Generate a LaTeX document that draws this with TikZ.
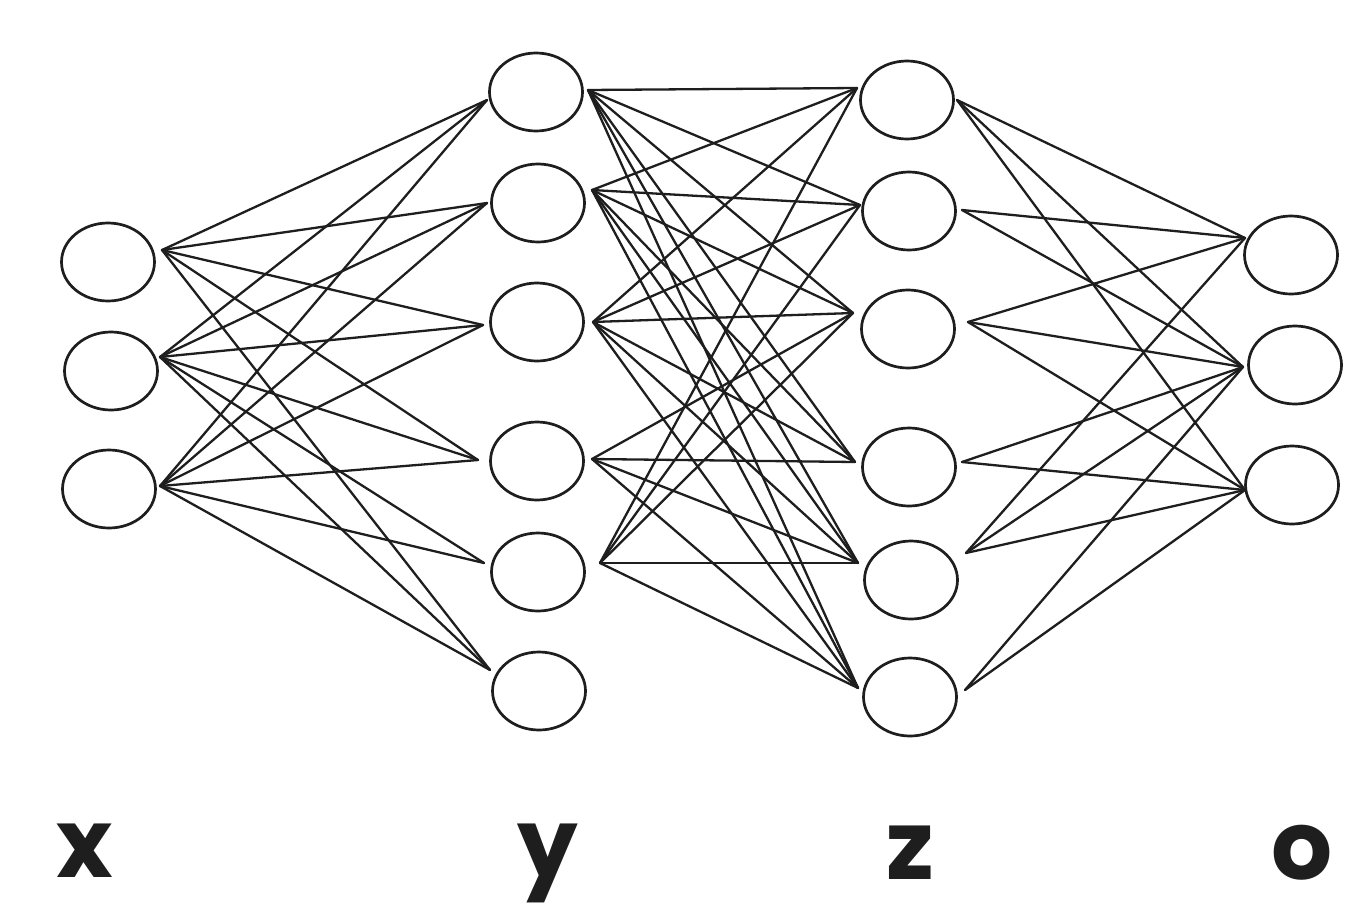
\documentclass[tikz,border=0pt]{standalone}
\usepackage{fontspec}
\setmainfont{Poppins}
\usetikzlibrary{shapes.geometric}
\definecolor{ink}{RGB}{30,30,30}
\tikzset{
  neuron/.style={ellipse, draw=ink, line width=2.7pt, minimum width=93pt, minimum height=78pt, inner sep=0pt},
  wire/.style={draw=ink, line width=2.3pt, line cap=round},
  lbl/.style={anchor=base, text=ink, font=\fontsize{96}{96}\selectfont\bfseries, inner sep=0pt}
}
\begin{document}
\begin{tikzpicture}[x=1pt,y=-1pt]
\fill[white] (0,0) rectangle (1362,910);
\useasboundingbox (0,0) rectangle (1362,910);
% layer x
\node[neuron] (x1) at (108,262) {};
\node[neuron] (x2) at (111,371) {};
\node[neuron] (x3) at (109,489) {};
% layer y
\node[neuron] (y1) at (536,92) {};
\node[neuron] (y2) at (538,203) {};
\node[neuron] (y3) at (537,322) {};
\node[neuron] (y4) at (537,461) {};
\node[neuron] (y5) at (538,572) {};
\node[neuron] (y6) at (539,691) {};
% layer z
\node[neuron] (z1) at (907,100) {};
\node[neuron] (z2) at (909,211) {};
\node[neuron] (z3) at (908,329) {};
\node[neuron] (z4) at (909,467) {};
\node[neuron] (z5) at (911,580) {};
\node[neuron] (z6) at (910,697) {};
% layer o
\node[neuron] (o1) at (1291,255) {};
\node[neuron] (o2) at (1295,365) {};
\node[neuron] (o3) at (1292,485) {};
% ports
\coordinate (x1o) at (162,250);
\coordinate (x2o) at (160,357);
\coordinate (x3o) at (160,486);
\coordinate (y1i) at (487,100);
\coordinate (y2i) at (487,203);
\coordinate (y3i) at (483,325);
\coordinate (y4i) at (478,460);
\coordinate (y5i) at (484,563);
\coordinate (y6i) at (490,670);
\coordinate (y1o) at (588,90);
\coordinate (y2o) at (592,190);
\coordinate (y3o) at (593,322);
\coordinate (y4o) at (592,459);
\coordinate (y5o) at (600,563);
\coordinate (z1i) at (857,88);
\coordinate (z2i) at (860,205);
\coordinate (z3i) at (853,313);
\coordinate (z4i) at (855,462);
\coordinate (z5i) at (858,563);
\coordinate (z6i) at (858,688);
\coordinate (z1o) at (957,100);
\coordinate (z2o) at (962,210);
\coordinate (z3o) at (968,322);
\coordinate (z4o) at (962,462);
\coordinate (z5o) at (966,553);
\coordinate (z6o) at (965,690);
\coordinate (o1i) at (1245,238);
\coordinate (o2i) at (1243,367);
\coordinate (o3i) at (1245,490);
% x -> y
\foreach \t in {1,2,3,4,6} \draw[wire] (x1o) -- (y\t i);
\foreach \t in {1,...,6} \draw[wire] (x2o) -- (y\t i);
\foreach \t in {1,...,6} \draw[wire] (x3o) -- (y\t i);
% y -> z
\foreach \t in {1,...,6} \draw[wire] (y1o) -- (z\t i);
\foreach \t in {1,...,6} \draw[wire] (y2o) -- (z\t i);
\foreach \t in {1,...,6} \draw[wire] (y3o) -- (z\t i);
\foreach \t in {3,4,5,6} \draw[wire] (y4o) -- (z\t i);
\foreach \t in {1,2,3,5,6} \draw[wire] (y5o) -- (z\t i);
% z -> o
\foreach \t in {1,2,3} \draw[wire] (z1o) -- (o\t i);
\foreach \t in {1,2} \draw[wire] (z2o) -- (o\t i);
\foreach \t in {1,2,3} \draw[wire] (z3o) -- (o\t i);
\foreach \t in {2,3} \draw[wire] (z4o) -- (o\t i);
\foreach \t in {1,2,3} \draw[wire] (z5o) -- (o\t i);
\foreach \t in {2,3} \draw[wire] (z6o) -- (o\t i);
% labels
\node[lbl] (lx) at (85,877) {x};
\node[lbl] (ly) at (548,877) {y};
\node[lbl] (lz) at (910,879) {z};
\node[lbl] (lo) at (1302,879) {o};
\end{tikzpicture}
\end{document}
